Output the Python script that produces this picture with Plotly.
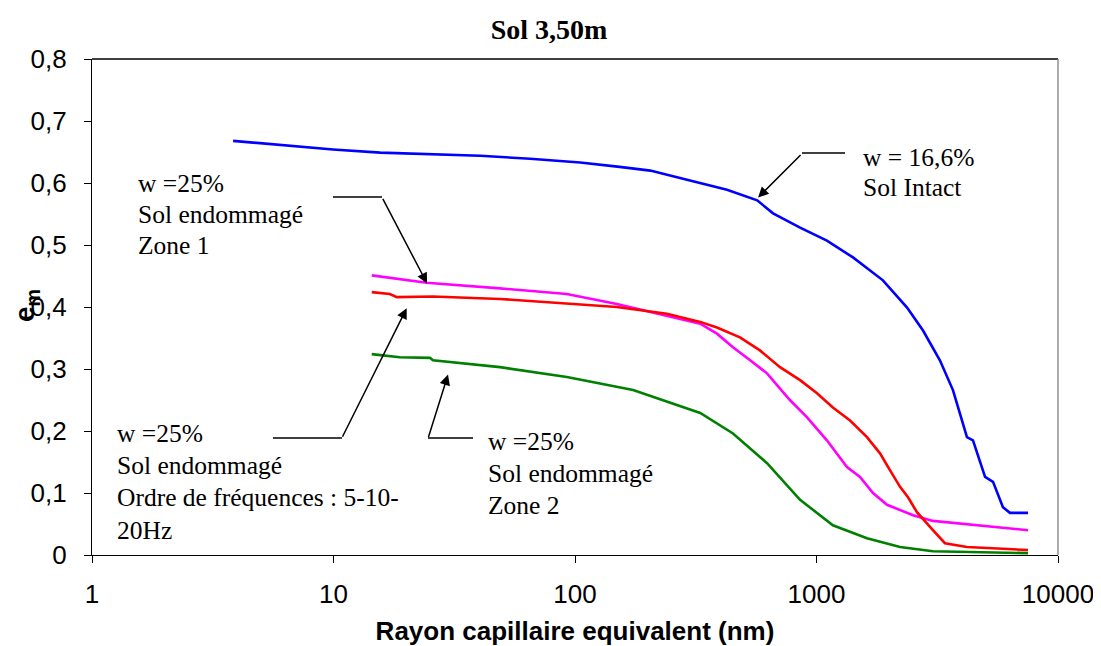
import math
import plotly.graph_objects as go

# ---- data ----
blue_x = [3.84, 5.46, 7.26, 9.95, 15.6, 25.1, 40.5, 65.2, 105, 153, 205, 280, 426, 568, 661, 855,
          1104, 1416, 1884, 2371, 2761, 3243, 3673, 4198, 4446, 4989, 5383, 5916, 6324, 7516]
blue_y = [0.668, 0.663, 0.659, 0.654, 0.649, 0.647, 0.644, 0.639, 0.633, 0.626, 0.620, 0.607, 0.589,
          0.572, 0.551, 0.528, 0.507, 0.480, 0.443, 0.399, 0.362, 0.314, 0.266, 0.190, 0.185, 0.126,
          0.118, 0.077, 0.068, 0.068]

magenta_x = [14.4, 24.3, 48.9, 92.5, 149, 240, 330, 387, 451, 531, 624, 776, 914, 1104, 1337, 1514,
             1714, 1959, 2512, 3034, 4198, 7516]
magenta_y = [0.451, 0.439, 0.430, 0.421, 0.405, 0.386, 0.373, 0.357, 0.335, 0.314, 0.293, 0.250, 0.222,
             0.185, 0.142, 0.126, 0.100, 0.081, 0.064, 0.055, 0.050, 0.040]

red_x = [14.4, 17.1, 18.3, 25.8, 48.9, 92.5, 149, 240, 330, 387, 482, 583, 706, 855, 1005, 1169, 1377,
         1618, 1832, 2014, 2218, 2393, 2606, 3034, 3404, 4198, 7516]
red_y = [0.424, 0.421, 0.416, 0.417, 0.413, 0.405, 0.400, 0.389, 0.376, 0.367, 0.351, 0.330, 0.303,
         0.282, 0.261, 0.238, 0.217, 0.190, 0.164, 0.137, 0.110, 0.093, 0.069, 0.040, 0.019, 0.013, 0.008]

green_x = [14.4, 18.8, 25.1, 25.8, 48.9, 92.5, 174, 280, 330, 451, 624, 855, 1169, 1618, 2218, 3034, 7516]
green_y = [0.324, 0.319, 0.318, 0.314, 0.303, 0.287, 0.266, 0.239, 0.229, 0.196, 0.148, 0.089, 0.048,
           0.027, 0.013, 0.006, 0.003]

x_ticks = [1, 10, 100, 1000, 10000]
x_tick_text = ["1", "10", "100", "1000", "10000"]
y_ticks = [0, 0.1, 0.2, 0.3, 0.4, 0.5, 0.6, 0.7, 0.8]
y_tick_text = ["0", "0,1", "0,2", "0,3", "0,4", "0,5", "0,6", "0,7", "0,8"]

# page has an 8px body margin; size the figure so the plot area lands where the reference has it
OFF = 8
W, H = 1101 - OFF, 646 - OFF
PL, PR, PT, PB = 92, 1058, 59, 555          # plot area in page pixels
L, R, T, B = PL - OFF, W - (PR - OFF), PT - OFF, H - (PB - OFF)
PW, PH = PR - PL, PB - PT


def px(xp):
    return (xp - PL) / PW


def py(yp):
    return (PB - yp) / PH


fig = go.Figure()
for xs, ys, col in [(blue_x, blue_y, "#0000FF"), (magenta_x, magenta_y, "#FF00FF"),
                    (red_x, red_y, "#FF0000"), (green_x, green_y, "#008000")]:
    fig.add_trace(go.Scatter(x=xs, y=ys, mode="lines", line=dict(color=col, width=2.6),
                             showlegend=False, hoverinfo="skip"))

serif = "Liberation Serif, Times New Roman, serif"
sans = "Liberation Sans, Arial, sans-serif"

annotations = []
text_blocks = [
    (136, [(183, "w =25%"), (214, "Sol endommagé"), (245, "Zone 1")]),
    (861, [(157, "w = 16,6%"), (187, "Sol Intact")]),
    (115, [(433, "w =25%"), (465, "Sol endommagé"), (497, "Ordre de fréquences : 5-10-"), (530, "20Hz")]),
    (486, [(441, "w =25%"), (473, "Sol endommagé"), (505, "Zone 2")]),
]
for xl, lines in text_blocks:
    for yl, t in lines:
        annotations.append(dict(x=px(xl), y=py(yl), xref="paper", yref="paper", text=t,
                                showarrow=False, xanchor="left", yanchor="middle",
                                font=dict(family=serif, size=25.5, color="black")))

# arrows: tip (nm, value), tail offset in px
arrows = [
    (24.4, 0.438, -45, -86),
    (573, 0.5765, 44, -44),
    (20.1, 0.398, -65, 130),
    (29.8, 0.291, -20, 64),
]
for xv, yv, ax, ay in arrows:
    annotations.append(dict(x=math.log10(xv), y=yv, xref="x", yref="y", text="", showarrow=True,
                            ax=ax, ay=ay, arrowhead=2, arrowsize=1.4, arrowwidth=1.5,
                            arrowcolor="black", standoff=0))

# y-axis title as rotated text
annotations.append(dict(x=px(26), y=py(306), xref="paper", yref="paper", text="<b>e<sub>m</sub></b>",
                        showarrow=False, textangle=-90, xanchor="center", yanchor="middle",
                        font=dict(family=sans, size=28, color="black")))

shapes = []
for x0, x1, yy in [(333, 382, 197), (802, 845, 153), (273, 342, 438), (428, 473, 438)]:
    shapes.append(dict(type="line", xref="paper", yref="paper", x0=px(x0), x1=px(x1), y0=py(yy), y1=py(yy),
                       line=dict(color="black", width=1.5)))
# frame: top black, right gray
shapes.append(dict(type="line", xref="paper", yref="paper", x0=0, x1=1, y0=1, y1=1,
                   line=dict(color="black", width=1.3)))
shapes.append(dict(type="line", xref="paper", yref="paper", x0=1, x1=1, y0=0, y1=1,
                   line=dict(color="#808080", width=1.3)))

fig.update_layout(
    width=W, height=H,
    margin=dict(l=L, r=R, t=T, b=B, autoexpand=False),
    paper_bgcolor="white", plot_bgcolor="white",
    annotations=annotations, shapes=shapes,
    showlegend=False,
    title=dict(text="<b>Sol 3,50m</b>", x=(549 - OFF) / W, xref="container", xanchor="center",
               y=1 - (29 - OFF) / H, yref="container", yanchor="middle",
               font=dict(family=serif, size=28, color="black")),
)
fig.update_xaxes(type="log", range=[0, 4], tickvals=x_ticks, ticktext=x_tick_text,
                 showgrid=False, zeroline=False, showline=True, linecolor="black", linewidth=1.3,
                 ticks="outside", ticklen=7, tickcolor="black", tickwidth=1.3,
                 ticklabelstandoff=9,
                 tickfont=dict(family=sans, size=26, color="black"),
                 title=dict(text="<b>Rayon capillaire equivalent (nm)</b>", standoff=14,
                            font=dict(family=sans, size=26, color="black")))
fig.update_yaxes(range=[0, 0.8], tickvals=y_ticks, ticktext=y_tick_text,
                 showgrid=False, zeroline=False, showline=True, linecolor="black", linewidth=1.3,
                 ticks="outside", ticklen=7, tickcolor="black", tickwidth=1.3,
                 ticklabelstandoff=12,
                 tickfont=dict(family=sans, size=26, color="black"))

fig.write_html("out.html")
